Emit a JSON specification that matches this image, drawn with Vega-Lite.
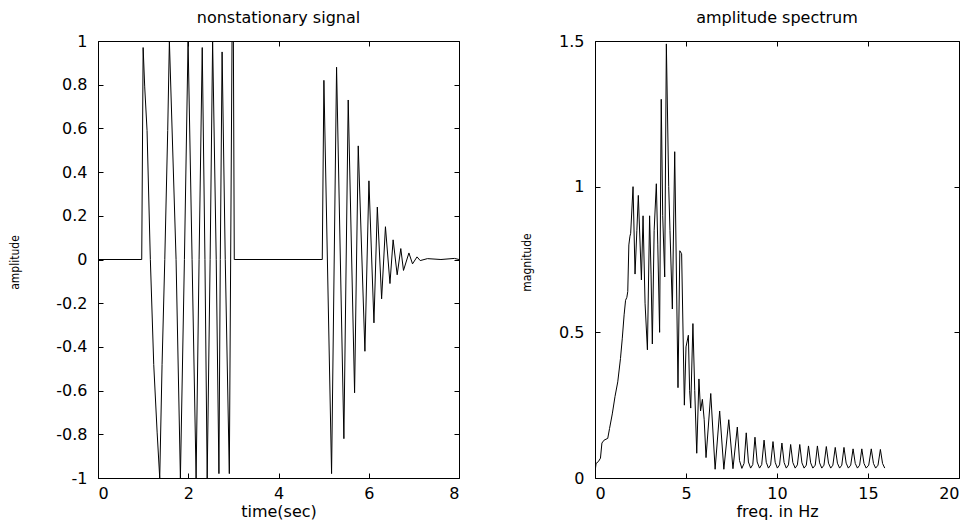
{
  "$schema": "https://vega.github.io/schema/vega-lite/v6.json",
  "background": "white",
  "padding": {"left": 7, "top": 9, "right": 14, "bottom": 3},
  "spacing": 136,
  "bounds": "flush",
  "config": {
    "font": "DejaVu Sans",
    "view": {"stroke": "black", "strokeWidth": 1},
    "axis": {
      "grid": false,
      "domain": false,
      "offset": -5,
      "tickSize": 5,
      "tickColor": "black",
      "tickWidth": 1,
      "labelColor": "black",
      "labelFont": "DejaVu Sans",
      "labelFontSize": 16,
      "titleFont": "DejaVu Sans",
      "titleFontWeight": "normal",
      "titleColor": "black",
      "labelExpr": "datum.value < 0 ? '-' + format(-datum.value, '') : format(datum.value, '')"
    },
    "axisX": {"labelPadding": 7, "titleFontSize": 16, "titlePadding": 2},
    "axisY": {"labelPadding": 11, "titleFontSize": 12, "titleFont": "DejaVu Sans Condensed"},
    "title": {"font": "DejaVu Sans", "fontSize": 16, "fontWeight": "normal", "color": "black", "offset": 7}
  },
  "datasets": {
    "signal": [
      {"t": 0, "amp": 0}, {"t": 0.969, "amp": 0}, {"t": 1.0, "amp": 0.97}, {"t": 1.035, "amp": 0.79},
      {"t": 1.087, "amp": 0.59}, {"t": 1.16, "amp": 0}, {"t": 1.235, "amp": -0.48}, {"t": 1.31, "amp": -0.79},
      {"t": 1.368, "amp": -1.0}, {"t": 1.42, "amp": -0.48}, {"t": 1.48, "amp": 0}, {"t": 1.545, "amp": 0.59},
      {"t": 1.582, "amp": 1.0}, {"t": 1.73, "amp": 0}, {"t": 1.826, "amp": -1.0}, {"t": 1.915, "amp": 0},
      {"t": 1.996, "amp": 1.0}, {"t": 2.085, "amp": 0}, {"t": 2.174, "amp": -1.0}, {"t": 2.24, "amp": 0},
      {"t": 2.31, "amp": 0.97}, {"t": 2.37, "amp": 0}, {"t": 2.42, "amp": -1.0}, {"t": 2.485, "amp": 0},
      {"t": 2.54, "amp": 1.0}, {"t": 2.62, "amp": 0}, {"t": 2.68, "amp": -0.98}, {"t": 2.71, "amp": 0},
      {"t": 2.75, "amp": 0.95}, {"t": 2.82, "amp": 0}, {"t": 2.91, "amp": -0.98}, {"t": 2.97, "amp": 1.0},
      {"t": 3.0, "amp": 1.0}, {"t": 3.02, "amp": 0}, {"t": 4.97, "amp": 0}, {"t": 5.006, "amp": 0.82},
      {"t": 5.176, "amp": -0.98}, {"t": 5.287, "amp": 0.88}, {"t": 5.449, "amp": -0.82}, {"t": 5.545, "amp": 0.73},
      {"t": 5.686, "amp": -0.61}, {"t": 5.767, "amp": 0.52}, {"t": 5.915, "amp": -0.42}, {"t": 6.004, "amp": 0.36},
      {"t": 6.115, "amp": -0.29}, {"t": 6.19, "amp": 0.24}, {"t": 6.285, "amp": -0.18}, {"t": 6.37, "amp": 0.15},
      {"t": 6.47, "amp": -0.11}, {"t": 6.54, "amp": 0.09}, {"t": 6.63, "amp": -0.07}, {"t": 6.71, "amp": 0.05},
      {"t": 6.77, "amp": -0.05}, {"t": 6.89, "amp": 0.03}, {"t": 6.97, "amp": -0.02}, {"t": 7.07, "amp": 0.012},
      {"t": 7.14, "amp": -0.005}, {"t": 7.3, "amp": 0.004}, {"t": 7.6, "amp": 0.0}, {"t": 7.9, "amp": 0.005},
      {"t": 8.0, "amp": 0.0}
    ],
    "spectrum": [
      {"f": 0, "m": 0.02}, {"f": 0.06, "m": 0.05}, {"f": 0.18, "m": 0.056}, {"f": 0.3, "m": 0.068},
      {"f": 0.38, "m": 0.12}, {"f": 0.5, "m": 0.13}, {"f": 0.7, "m": 0.136}, {"f": 0.8, "m": 0.17},
      {"f": 0.95, "m": 0.22}, {"f": 1.1, "m": 0.28}, {"f": 1.25, "m": 0.33}, {"f": 1.4, "m": 0.41},
      {"f": 1.5, "m": 0.48}, {"f": 1.6, "m": 0.56}, {"f": 1.68, "m": 0.61}, {"f": 1.75, "m": 0.62},
      {"f": 1.8, "m": 0.64}, {"f": 1.86, "m": 0.8}, {"f": 1.92, "m": 0.83}, {"f": 1.96, "m": 0.84},
      {"f": 2.09, "m": 1.0}, {"f": 2.2, "m": 0.7}, {"f": 2.3, "m": 0.85}, {"f": 2.38, "m": 0.97},
      {"f": 2.55, "m": 0.68}, {"f": 2.64, "m": 0.9}, {"f": 2.75, "m": 0.6}, {"f": 2.88, "m": 0.44},
      {"f": 3.0, "m": 0.9}, {"f": 3.08, "m": 0.7}, {"f": 3.15, "m": 0.46}, {"f": 3.25, "m": 0.85},
      {"f": 3.37, "m": 1.01}, {"f": 3.45, "m": 0.8}, {"f": 3.55, "m": 0.5}, {"f": 3.64, "m": 1.3},
      {"f": 3.72, "m": 0.9}, {"f": 3.83, "m": 0.69}, {"f": 3.92, "m": 1.49}, {"f": 4.05, "m": 1.0},
      {"f": 4.12, "m": 0.85}, {"f": 4.25, "m": 0.58}, {"f": 4.38, "m": 1.12}, {"f": 4.56, "m": 0.31},
      {"f": 4.66, "m": 0.78}, {"f": 4.76, "m": 0.77}, {"f": 4.91, "m": 0.25}, {"f": 5.0, "m": 0.45},
      {"f": 5.13, "m": 0.49}, {"f": 5.2, "m": 0.3}, {"f": 5.26, "m": 0.24}, {"f": 5.38, "m": 0.53},
      {"f": 5.48, "m": 0.3}, {"f": 5.59, "m": 0.085}, {"f": 5.71, "m": 0.34}, {"f": 5.8, "m": 0.23},
      {"f": 5.9, "m": 0.27}, {"f": 6.0, "m": 0.2}, {"f": 6.1, "m": 0.07}, {"f": 6.36, "m": 0.29},
      {"f": 6.6, "m": 0.03}, {"f": 6.85, "m": 0.23}, {"f": 7.08, "m": 0.03}, {"f": 7.35, "m": 0.2},
      {"f": 7.58, "m": 0.032}, {"f": 7.82, "m": 0.175}, {"f": 7.94, "m": 0.06}, {"f": 8.07, "m": 0.033},
      {"f": 8.19, "m": 0.05}, {"f": 8.31, "m": 0.155}, {"f": 8.43, "m": 0.055}, {"f": 8.55, "m": 0.034},
      {"f": 8.67, "m": 0.046}, {"f": 8.79, "m": 0.14}, {"f": 8.91, "m": 0.055}, {"f": 9.04, "m": 0.034},
      {"f": 9.16, "m": 0.046}, {"f": 9.29, "m": 0.13}, {"f": 9.41, "m": 0.054}, {"f": 9.53, "m": 0.034},
      {"f": 9.65, "m": 0.045}, {"f": 9.78, "m": 0.125}, {"f": 9.9, "m": 0.054}, {"f": 10.02, "m": 0.034},
      {"f": 10.14, "m": 0.045}, {"f": 10.27, "m": 0.12}, {"f": 10.39, "m": 0.053}, {"f": 10.51, "m": 0.034},
      {"f": 10.63, "m": 0.045}, {"f": 10.75, "m": 0.115}, {"f": 10.87, "m": 0.053}, {"f": 11.0, "m": 0.034},
      {"f": 11.12, "m": 0.045}, {"f": 11.25, "m": 0.115}, {"f": 11.37, "m": 0.052}, {"f": 11.49, "m": 0.034},
      {"f": 11.61, "m": 0.044}, {"f": 11.73, "m": 0.11}, {"f": 11.85, "m": 0.052}, {"f": 11.97, "m": 0.034},
      {"f": 12.1, "m": 0.044}, {"f": 12.22, "m": 0.11}, {"f": 12.34, "m": 0.052}, {"f": 12.46, "m": 0.034},
      {"f": 12.58, "m": 0.044}, {"f": 12.71, "m": 0.108}, {"f": 12.83, "m": 0.051}, {"f": 12.95, "m": 0.034},
      {"f": 13.07, "m": 0.044}, {"f": 13.2, "m": 0.105}, {"f": 13.32, "m": 0.051}, {"f": 13.44, "m": 0.034},
      {"f": 13.56, "m": 0.044}, {"f": 13.68, "m": 0.105}, {"f": 13.8, "m": 0.051}, {"f": 13.92, "m": 0.034},
      {"f": 14.05, "m": 0.044}, {"f": 14.18, "m": 0.1}, {"f": 14.3, "m": 0.05}, {"f": 14.42, "m": 0.034},
      {"f": 14.54, "m": 0.044}, {"f": 14.66, "m": 0.1}, {"f": 14.78, "m": 0.05}, {"f": 14.9, "m": 0.034},
      {"f": 15.04, "m": 0.044}, {"f": 15.18, "m": 0.1}, {"f": 15.3, "m": 0.05}, {"f": 15.42, "m": 0.034},
      {"f": 15.55, "m": 0.044}, {"f": 15.68, "m": 0.098}, {"f": 15.8, "m": 0.05}, {"f": 15.92, "m": 0.034}
    ]
  },
  "hconcat": [
    {
      "width": 361,
      "height": 437,
      "title": "nonstationary signal",
      "data": {"name": "signal"},
      "layer": [
        {
          "mark": {"type": "line", "color": "black", "strokeWidth": 1, "clip": true},
          "encoding": {
            "x": {"field": "t", "type": "quantitative", "scale": {"domain": [0, 8], "nice": false, "zero": false},
                  "axis": {"orient": "bottom", "title": "time(sec)", "values": [0, 2, 4, 6, 8]}},
            "y": {"field": "amp", "type": "quantitative", "scale": {"domain": [-1, 1], "nice": false, "zero": false},
                  "axis": {"orient": "left", "title": "amplitude", "values": [-1, -0.8, -0.6, -0.4, -0.2, 0, 0.2, 0.4, 0.6, 0.8, 1],
                           "titleX": -89, "titleY": 221, "titleAngle": 270, "titleAlign": "center", "titleBaseline": "middle"}}
          }
        },
        {
          "mark": {"type": "line", "strokeOpacity": 0},
          "encoding": {
            "x": {"field": "t", "type": "quantitative", "axis": {"orient": "top", "title": null, "labels": false, "values": [0, 2, 4, 6, 8]}},
            "y": {"field": "amp", "type": "quantitative", "axis": {"orient": "right", "title": null, "labels": false, "values": [-1, -0.8, -0.6, -0.4, -0.2, 0, 0.2, 0.4, 0.6, 0.8, 1]}}
          }
        }
      ],
      "resolve": {"axis": {"x": "independent", "y": "independent"}}
    },
    {
      "width": 364,
      "height": 437,
      "title": "amplitude spectrum",
      "data": {"name": "spectrum"},
      "layer": [
        {
          "mark": {"type": "line", "color": "black", "strokeWidth": 1, "clip": true},
          "encoding": {
            "x": {"field": "f", "type": "quantitative", "scale": {"domain": [0, 20], "nice": false, "zero": false},
                  "axis": {"orient": "bottom", "title": "freq. in Hz", "values": [0, 5, 10, 15, 20]}},
            "y": {"field": "m", "type": "quantitative", "scale": {"domain": [0, 1.5], "nice": false, "zero": false},
                  "axis": {"orient": "left", "title": "magnitude", "values": [0, 0.5, 1, 1.5],
                           "titleX": -74, "titleY": 221, "titleAngle": 270, "titleAlign": "center", "titleBaseline": "middle"}}
          }
        },
        {
          "mark": {"type": "line", "strokeOpacity": 0},
          "encoding": {
            "x": {"field": "f", "type": "quantitative", "axis": {"orient": "top", "title": null, "labels": false, "values": [0, 5, 10, 15, 20]}},
            "y": {"field": "m", "type": "quantitative", "axis": {"orient": "right", "title": null, "labels": false, "values": [0, 0.5, 1, 1.5]}}
          }
        }
      ],
      "resolve": {"axis": {"x": "independent", "y": "independent"}}
    }
  ]
}
